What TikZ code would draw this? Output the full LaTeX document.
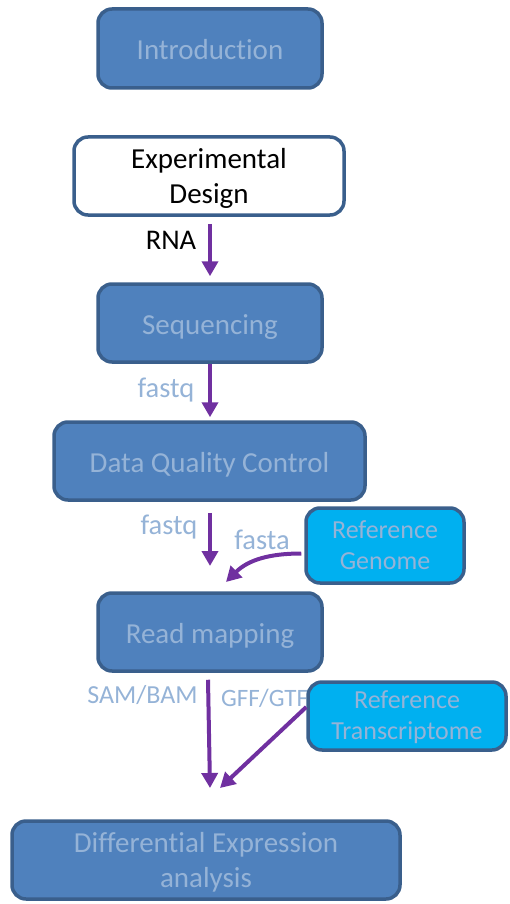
\documentclass[tikz,border=0pt]{standalone}
\usepackage{fontspec}
\setmainfont{Carlito}[Ligatures=NoCommon]
\usetikzlibrary{arrows.meta}
\definecolor{boxfill}{HTML}{4F81BD}
\definecolor{boxline}{HTML}{3A5F8C}
\definecolor{boxtext}{HTML}{95B3D7}
\definecolor{reffill}{HTML}{00B0F0}
\definecolor{arrowc}{HTML}{7030A0}
\tikzset{
  stepbox/.style={draw=boxline, line width=3.5pt, fill=boxfill, rounded corners=14pt,
    text=boxtext, align=center, inner sep=0pt, font=\fontsize{29}{35}\selectfont},
  oneline/.style={text height=26pt, text depth=4pt},
  whitebox/.style={stepbox, fill=white, text=black},
  refbox/.style={stepbox, fill=reffill, font=\fontsize{26}{31}\selectfont},
  flow/.style={draw=arrowc, line width=4pt, -{Triangle[width=16pt,length=15pt]}},
  lbl/.style={text=boxtext, inner sep=0pt, font=\fontsize{28.5}{34}\selectfont},
  lblsmall/.style={lbl, font=\fontsize{26}{31}\selectfont},
}
\begin{document}
\begin{tikzpicture}[x=1pt,y=-1pt]
\useasboundingbox (0,0) rectangle (510,904);
% labels
\node[lbl, text=black] (lrna) at (171,240) {RNA};
\node[lbl] (lfq1) at (166,390) {fastq};
\node[lbl] (lfq2) at (169,527) {fastq};
\node[lbl] (lfa) at (262,540) {fasta};
\node[lblsmall] (lsam) at (142.5,695) {SAM/BAM};
\node[lblsmall, font=\fontsize{25}{30}\selectfont, anchor=west] (lgff) at (221,698) {GFF/GTF};
% boxes
\node[stepbox, oneline, minimum width=224pt, minimum height=79pt] (intro) at (210,48.5) {Introduction};
\node[whitebox, minimum width=270pt, minimum height=78pt] (exp) at (209,176) {\rule{0pt}{25pt}Experimental\\Design};
\node[stepbox, oneline, minimum width=224pt, minimum height=78pt] (seq) at (210,323) {Sequencing};
\node[stepbox, oneline, minimum width=311pt, minimum height=78pt] (dqc) at (209.5,461) {Data Quality Control};
\node[refbox, minimum width=158pt, minimum height=75pt] (refg) at (385,545.5) {Reference\\Genome};
\node[stepbox, oneline, minimum width=224pt, minimum height=78pt] (read) at (210,632) {Read mapping};
\node[refbox, minimum width=198pt, minimum height=68pt] (reft) at (407,716) {\rule{0pt}{21pt}Reference\\Transcriptome};
\node[stepbox, minimum width=388pt, minimum height=78pt] (dea) at (206,860) {\rule{0pt}{25pt}Differential Expression\\analysis};
% free ends
\coordinate (m1) at (210,566);
\coordinate (c1) at (226,582);
\coordinate (m2) at (210,788);
\coordinate (c2) at (220,788);
% connectors
\draw[flow] ([yshift=-7pt]exp.south -| seq.north) -- ([yshift=6pt]seq.north);
\draw[flow] (seq.south) -- ([yshift=3pt]dqc.north -| seq.south);
\draw[flow] ([yshift=-11pt]dqc.south -| m1) -- (m1);
\draw[flow] ([xshift=-3pt,yshift=-8pt]refg.west) to[out=180,in=45] (c1);
\draw[flow] ([xshift=-2pt,yshift=-7pt]read.south) -- (m2);
\draw[flow] ([yshift=9pt]reft.west) -- (c2);
\end{tikzpicture}
\end{document}
